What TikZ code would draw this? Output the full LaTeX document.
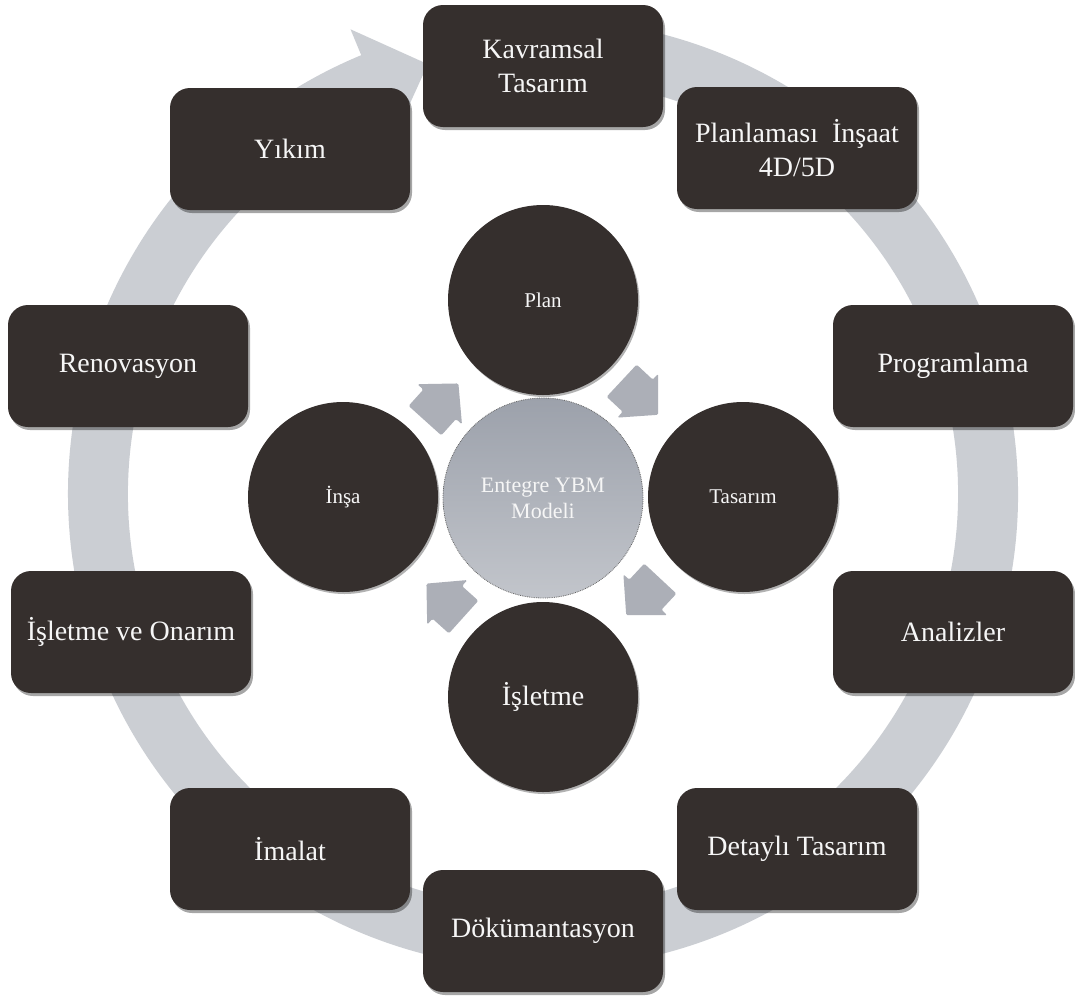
\documentclass[tikz,border=0pt]{standalone}
\usepackage{fontspec}
\setmainfont{Liberation Serif}
\usetikzlibrary{shadows}

\definecolor{boxfill}{RGB}{53,47,45}
\definecolor{labeltext}{RGB}{246,246,246}
\definecolor{ringgrey}{RGB}{203,206,211}
\definecolor{smallarrowgrey}{RGB}{172,175,183}
\definecolor{hubtop}{RGB}{156,161,171}
\definecolor{hubbottom}{RGB}{194,197,203}

\tikzset{
  stagebox/.style={rectangle, rounded corners=20pt, fill=boxfill,
    minimum width=240pt, minimum height=122pt, inner sep=2pt,
    text=labeltext, align=center, font=\fontsize{28}{34}\selectfont,
    drop shadow={shadow xshift=2pt, shadow yshift=-3pt, opacity=0.35, fill=black}},
  phase/.style={circle, fill=boxfill, minimum size=190pt, inner sep=0pt,
    text=labeltext, align=center, font=\fontsize{21}{25}\selectfont,
    drop shadow={shadow xshift=1.5pt, shadow yshift=-2pt, opacity=0.3, fill=black}},
  hub/.style={circle, minimum size=200pt, inner sep=0pt,
    top color=hubtop, bottom color=hubbottom,
    draw=black!60, densely dotted, line width=0.8pt,
    text=labeltext, align=center, font=\fontsize{22}{26}\selectfont},
  pics/cyclearrow/.style={code={
    \fill[smallarrowgrey, rounded corners=1.5pt] (-21,-22) -- (1,-22) -- (1,-30) -- (29,0)
      -- (1,30) -- (1,22) -- (-21,22) -- cycle;}}
}

\begin{document}
\begin{tikzpicture}[x=1pt, y=1pt]
  \useasboundingbox[fill=white] (0,0) rectangle (1075,-996);

  % large grey cycle arrow running clockwise behind the stage boxes
  \coordinate (ringc) at (543,-494);
  \fill[ringgrey]
    ([shift={(ringc)}]98:475) arc[start angle=98, end angle=-247.5, radius=475]
    -- ([shift={(ringc)}]112.5:503)
    -- ([shift={(ringc)}]105:445)
    -- ([shift={(ringc)}]112.5:387)
    -- ([shift={(ringc)}]112.5:415)
    arc[start angle=-247.5, end angle=98, radius=415]
    -- cycle;

  % life-cycle stages
  \node[stagebox] (kavram)  at (543,-66)  {Kavramsal\\Tasarım};
  \node[stagebox] (planl)   at (797,-148) {Planlaması\ \ İnşaat\\4D/5D};
  \node[stagebox] (program) at (953,-366) {Programlama};
  \node[stagebox] (analiz)  at (953,-632) {Analizler};
  \node[stagebox] (detay)   at (797,-849) {Detaylı Tasarım};
  \node[stagebox] (dokuman) at (543,-931) {Dökümantasyon};
  \node[stagebox] (imalat)  at (290,-849) {İmalat};
  \node[stagebox] (isletmeonarim) at (131,-632) {İşletme ve Onarım};
  \node[stagebox] (renov)   at (128,-366) {Renovasyon};
  \node[stagebox] (yikim)   at (290,-149) {Yıkım};

  % inner cycle around the integrated model
  \node[phase] (plan)    at (543,-300) {Plan};
  \node[phase] (tasarim) at (743,-497) {Tasarım};
  \node[phase, font=\fontsize{28}{33}\selectfont] (isletme) at (543,-697) {İşletme};
  \node[phase] (insa)    at (343,-497) {İnşa};
  \node[hub] (model) at (543,-498) {Entegre YBM\\Modeli};

  % small clockwise arrows between the phases
  \pic[rotate=48]   (arrInsaPlan)       at (439,-405) {cyclearrow};
  \pic[rotate=-43]  (arrPlanTasarim)    at (637,-395) {cyclearrow};
  \pic[rotate=-133] (arrTasarimIsletme) at (646,-594) {cyclearrow};
  \pic[rotate=138]  (arrIsletmeInsa)    at (448,-603) {cyclearrow};
\end{tikzpicture}
\end{document}
